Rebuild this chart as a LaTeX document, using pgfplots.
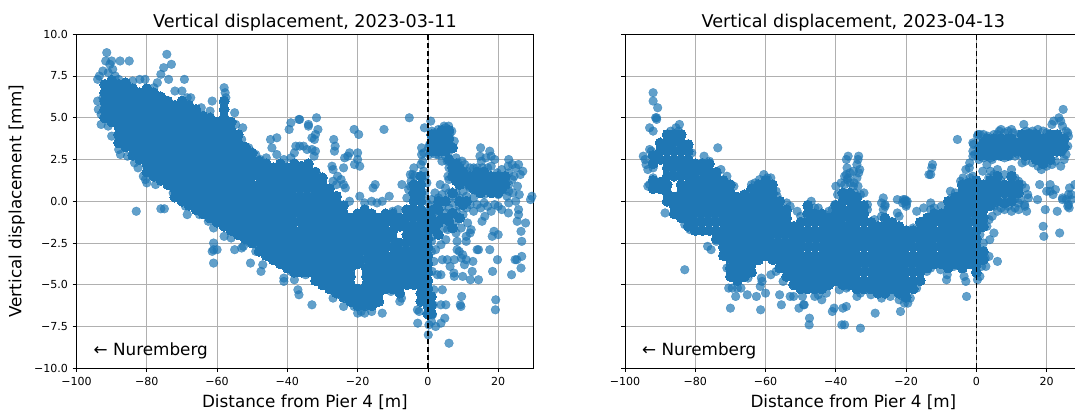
\documentclass[border=0pt]{standalone}
\usepackage{pgfplots}
\pgfplotsset{compat=1.18}
\usepackage{fontspec}
\setmainfont{DejaVu Sans}
\definecolor{mplblue}{HTML}{1F77B4}
\pgfplotsset{
 panel/.style={scale only axis,width=342.6pt,height=250.5pt,anchor=south west,
  xmin=-100,xmax=30,ymin=-10,ymax=10,
  xtick={-100,-80,-60,-40,-20,0,20},
  xticklabels={−100,−80,−60,−40,−20,0,20},
  ytick={-10,-7.5,-5,-2.5,0,2.5,5,7.5,10},
  tick align=outside,tick pos=left,major tick length=2.9pt,
  tick style={black,line width=0.55pt},
  axis line style={black,line width=0.6pt},
  grid=major,grid style={color=black!31,line width=0.62pt},
  axis on top,clip=true,
  tick label style={font=\fontsize{8.3}{10}\selectfont},
  xlabel style={font=\fontsize{12.6}{15}\selectfont,yshift=0pt},
  ylabel style={font=\fontsize{12.6}{15}\selectfont,yshift=0pt},
  title style={font=\fontsize{13.2}{16}\selectfont,yshift=-7.5pt},
  xlabel={Distance from Pier 4 [m]},ylabel={Vertical displacement [mm]},
  after end axis/.code={
   \draw[black,line width=1.1pt,dash pattern=on 4.2pt off 1.8pt] (axis cs:0,-10)--(axis cs:0,10);
   \node[anchor=west,inner sep=0pt,font=\fontsize{12.6}{15}\selectfont] at (axis cs:-95.2,-8.95) {← Nuremberg};
  }},
 body/.style={only marks,mark=*,mark size=3.7pt,color=mplblue,mark options={fill=mplblue,draw=mplblue,line width=0pt}},
 outer/.style={only marks,mark=*,mark size=3.3pt,color=mplblue,mark options={fill=mplblue,draw=mplblue,line width=0.2pt,fill opacity=0.7,draw opacity=0.7}}
}
\begin{document}
\begin{tikzpicture}
\begin{axis}[panel,at={(57.4pt,31.3pt)},
 title={Vertical displacement, 2023-03-11},
 yticklabels={−10.0,−7.5,−5.0,−2.5,0.0,2.5,5.0,7.5,10.0}]
\addplot[body] coordinates {
(-92,5)(-92,5.5)(-92,6)(-92,6.5)(-92,7)
(-90,4.75)(-90,5.25)(-90,5.75)(-90,6.25)(-90,6.75)(-90,7.25)
(-88,3.5)(-88,4)(-88,4.5)(-88,5)(-88,5.5)(-88,6)(-88,6.5)(-88,7)
(-86,3.25)(-86,3.75)(-86,4.25)(-86,4.75)(-86,5.25)(-86,5.75)(-86,6.25)(-86,6.75)(-86,7.1)
(-84,2.75)(-84,3.25)(-84,3.75)(-84,4.25)(-84,4.75)(-84,5.25)(-84,5.75)(-84,6.25)(-84,6.75)
(-82,2.5)(-82,3)(-82,3.5)(-82,4)(-82,4.5)(-82,5)(-82,5.5)(-82,6)(-82,6.5)
(-80,1.75)(-80,2.25)(-80,2.75)(-80,3.25)(-80,3.75)(-80,4.25)(-80,4.75)(-80,5.25)(-80,5.75)(-80,6.25)(-80,6.75)
(-78,1.5)(-78,2)(-78,2.5)(-78,3)(-78,3.5)(-78,4)(-78,4.5)(-78,5)(-78,5.5)(-78,6)(-78,6.5)
(-76,1.25)(-76,1.75)(-76,2.25)(-76,2.75)(-76,3.25)(-76,3.75)(-76,4.25)(-76,4.75)(-76,5.25)(-76,5.75)(-76,6.25)
(-74,1)(-74,1.5)(-74,2)(-74,2.5)(-74,3)(-74,3.5)(-74,4)(-74,4.5)(-74,5)(-74,5.5)(-74,6)
(-72,0.25)(-72,0.75)(-72,1.25)(-72,1.75)(-72,2.25)(-72,2.75)(-72,3.25)(-72,3.75)(-72,4.25)(-72,4.75)(-72,5.25)(-72,5.75)
(-70,0)(-70,0.5)(-70,1)(-70,1.5)(-70,2)(-70,2.5)(-70,3)(-70,3.5)(-70,4)(-70,4.5)(-70,5)(-70,5.5)(-70,6)
(-68,-0.25)(-68,0.25)(-68,0.75)(-68,1.25)(-68,1.75)(-68,2.25)(-68,2.75)(-68,3.25)(-68,3.75)(-68,4.25)(-68,4.75)(-68,5.25)(-68,5.75)
(-66,-0.5)(-66,0)(-66,0.5)(-66,1)(-66,1.5)(-66,2)(-66,2.5)(-66,3)(-66,3.5)(-66,4)(-66,4.5)(-66,5)(-66,5.5)
(-64,-0.75)(-64,-0.25)(-64,0.25)(-64,0.75)(-64,1.25)(-64,1.75)(-64,2.25)(-64,2.75)(-64,3.25)(-64,3.75)(-64,4.25)(-64,4.75)(-64,5.1)
(-62,-1)(-62,-0.5)(-62,0)(-62,0.5)(-62,1)(-62,1.5)(-62,2)(-62,2.5)(-62,3)(-62,3.5)(-62,4)(-62,4.5)(-62,5)
(-60,-1.25)(-60,-0.75)(-60,-0.25)(-60,0.25)(-60,0.75)(-60,1.25)(-60,1.75)(-60,2.25)(-60,2.75)(-60,3.25)(-60,3.75)(-60,4.25)(-60,4.75)
(-58,-1.5)(-58,-1)(-58,-0.5)(-58,0)(-58,0.5)(-58,1)(-58,1.5)(-58,2)(-58,2.5)(-58,3)(-58,3.5)(-58,4)(-58,4.5)(-58,5)(-58,5.5)(-58,6)
(-56,-1.75)(-56,-1.25)(-56,-0.75)(-56,-0.25)(-56,0.25)(-56,0.75)(-56,1.25)(-56,1.75)(-56,2.25)(-56,2.75)(-56,3.25)(-56,3.75)(-56,4.25)(-56,4.75)
(-54,-2)(-54,-1.5)(-54,-1)(-54,-0.5)(-54,0)(-54,0.5)(-54,1)(-54,1.5)(-54,2)(-54,2.5)(-54,3)(-54,3.5)(-54,4)
(-52,-2.25)(-52,-1.75)(-52,-1.25)(-52,-0.75)(-52,-0.25)(-52,0.25)(-52,0.75)(-52,1.25)(-52,1.75)(-52,2.25)(-52,2.75)(-52,3.25)
(-50,-2.5)(-50,-2)(-50,-1.5)(-50,-1)(-50,-0.5)(-50,0)(-50,0.5)(-50,1)(-50,1.5)(-50,2)(-50,2.5)(-50,2.9)
(-48,-3)(-48,-2.5)(-48,-2)(-48,-1.5)(-48,-1)(-48,-0.5)(-48,0)(-48,0.5)(-48,1)(-48,1.5)(-48,2)(-48,2.4)
(-46,-3.25)(-46,-2.75)(-46,-2.25)(-46,-1.75)(-46,-1.25)(-46,-0.75)(-46,-0.25)(-46,0.25)(-46,0.75)(-46,1.25)(-46,1.75)(-46,2.25)
(-44,-3.5)(-44,-3)(-44,-2.5)(-44,-2)(-44,-1.5)(-44,-1)(-44,-0.5)(-44,0)(-44,0.5)(-44,1)(-44,1.5)(-44,2)
(-42,-3.75)(-42,-3.25)(-42,-2.75)(-42,-2.25)(-42,-1.75)(-42,-1.25)(-42,-0.75)(-42,-0.25)(-42,0.25)(-42,0.75)(-42,1.25)(-42,1.75)(-42,2.25)
(-40,-4)(-40,-3.5)(-40,-3)(-40,-2.5)(-40,-2)(-40,-1.5)(-40,-1)(-40,-0.5)(-40,0)(-40,0.5)(-40,1)(-40,1.5)(-40,2)
(-38,-4.25)(-38,-3.75)(-38,-3.25)(-38,-2.75)(-38,-2.25)(-38,-1.75)(-38,-1.25)(-38,-0.75)(-38,-0.25)(-38,0.25)(-38,0.75)(-38,1.25)(-38,1.75)(-38,2.25)
(-36,-4.25)(-36,-3.75)(-36,-3.25)(-36,-2.75)(-36,-2.25)(-36,-1.75)(-36,-1.25)(-36,-0.75)(-36,-0.25)(-36,0.25)(-36,0.75)(-36,1.25)(-36,1.75)(-36,2.1)
(-34,-4.25)(-34,-3.75)(-34,-3.25)(-34,-2.75)(-34,-2.25)(-34,-1.75)(-34,-1.25)(-34,-0.75)(-34,-0.25)(-34,0.25)(-34,0.75)(-34,1.25)(-34,1.75)(-34,2.25)
(-32,-4.75)(-32,-4.25)(-32,-3.75)(-32,-3.25)(-32,-2.75)(-32,-2.25)(-32,-1.75)(-32,-1.25)(-32,-0.75)(-32,-0.25)(-32,0.25)(-32,0.75)(-32,1.25)(-32,1.75)
(-30,-5)(-30,-4.5)(-30,-4)(-30,-3.5)(-30,-3)(-30,-2.5)(-30,-2)(-30,-1.5)(-30,-1)(-30,-0.5)(-30,0)(-30,0.5)(-30,1)(-30,1.4)
(-28,-5.25)(-28,-4.75)(-28,-4.25)(-28,-3.75)(-28,-3.25)(-28,-2.75)(-28,-2.25)(-28,-1.75)(-28,-1.25)(-28,-0.75)(-28,-0.25)(-28,0.25)(-28,0.75)
(-26,-5.5)(-26,-5)(-26,-4.5)(-26,-4)(-26,-3.5)(-26,-3)(-26,-2.5)(-26,-2)(-26,-1.5)(-26,-1)(-26,-0.5)(-26,0)(-26,0.3)
(-24,-5.75)(-24,-5.25)(-24,-4.75)(-24,-4.25)(-24,-3.75)(-24,-3.25)(-24,-2.75)(-24,-2.25)(-24,-1.75)(-24,-1.25)(-24,-0.75)(-24,-0.25)
(-22,-6)(-22,-5.5)(-22,-5)(-22,-4.5)(-22,-4)(-22,-3.5)(-22,-3)(-22,-2.5)(-22,-2)(-22,-1.5)(-22,-1)
(-20,-6.25)(-20,-5.75)(-20,-5.25)(-20,-3.75)(-20,-3.25)(-20,-2.75)(-20,-2.25)(-20,-1.75)(-20,-1.25)(-20,-0.75)
(-18,-6.25)(-18,-5.75)(-18,-5.25)(-17.5,-5)(-17.5,-4.5)(-17.5,-4)(-17.5,-3.5)(-18,-3)(-18,-2.5)(-18,-2)(-18,-1.5)(-18,-1)(-18,-0.5)
(-16,-6.25)(-16,-5.75)(-16,-5.25)(-16,-4.75)(-16,-4.25)(-16,-3.75)(-16,-3.25)(-16,-2.75)(-16,-2.25)(-16,-1.75)(-16,-1.25)(-16,-0.75)
(-14,-6)(-14,-5.5)(-14,-5)(-14,-4.5)(-14,-4)(-14,-3.5)(-14,-3)(-14,-2.5)(-14,-2)(-14,-1.5)(-14,-1)
(-12,-5.25)(-12,-4.75)(-12,-4.25)(-12,-3.75)(-12,-3.25)(-12,-2.75)(-12,-2.25)(-12,-1.75)(-12,-1.25)(-12,-0.75)
(-10,-5.25)(-10,-4.75)(-10,-4.25)(-10,-3.75)(-10,-3.25)(-10,-2.75)(-10,-2.25)(-10,-1.75)(-10,-1.25)(-10,-0.75)
(-8,-5.5)(-8,-5)(-8,-4.5)(-8,-4)(-8,-3.5)(-8,-3)(-8,-2.5)(-8,-1.5)(-8,-1)
(-6,-5)(-6,-4.5)(-6,-4)(-6,-3.5)(-6,-3)(-6,-2.5)(-6,-2)(-6,-1.5)(-6,-1)(-6,-0.5)
(-4,-5)(-4,-4.5)(-4,-4)(-4,-3.5)(-4,-3)(-4,-2.5)(-4,-2)(-4,-1.5)(-4,-1)(-4,-0.5)(-4,0)(-4,0.5)(-4,1)
(-2,-6)(-2,-5.5)(-2,-5)(-2,-4.5)(-2,-4)(-2,-3.5)(-2,-3)(-2,-2.5)(-2,-2)(-2,-1.5)(-2,-1)(-2,-0.5)(-2,0)(-2,0.5)(-2,1)(-2,1.5)
(0,-6.75)(0,-6.25)(0,-5.75)(0,-5.25)(0,-4.75)(0,-4.25)(0,-3.75)(0,-3.25)(0,-2.75)(0,-2.25)(0,-1.75)(0,-1.25)(0,-0.75)
(1,3)(1,3.5)(1,4)(3,3)(3,3.5)(3,4)(5,3)(5,3.5)(5,4)(7,3.2)(2,3.25)(2,3.75)(4,3.25)(4,3.75)(4,4.25)(6,3.25)(6,3.75)(6,4.25)
(7,1.5)(7,2)(9,1)(9,1.5)(9,2)(8,2.25)(8,1.25)(10,1.75)(10,1.25)(6,2.5)
(13,0.75)(13,1.25)(15,0.5)(15,1)(15,1.5)(17,0.75)(17,1.25)(19,0.75)(19,1.25)(21,0.75)(21,1.25)
(14,0.75)(14,1.25)(14,1.75)(16,0.75)(16,1.25)(16,1.75)(18,0.5)(18,1)(18,1.5)(20,0.5)(20,1)(20,1.5)(22,1)(22,1.5)(12,1)(12,1.5)
(1,-5.7)(1,-6.2)(1,-6.7)(1,-1)(2,-1.7)(3,-1.3)(1.5,-0.5)(3,-0.5)(5,0)(7,0.5)(9,0)(11,0)(3,0)(4,-1)(6,-1.2)(7,-0.7)(3,-2)(5,-1)(7,-1.6)(9,-1)(10,-0.2)
};
\addplot[outer] coordinates {
(-94,7.3)(-93.5,7.5)(-92.5,7.8)(-91.4,8.9)(-91.7,8.4)(-90.5,8.2)(-90,8.4)(-89.7,7.9)(-87.6,8.4)(-85,8.4)(-91,7.7)(-89,7.5)(-88,7.3)(-84,7.2)(-82,7.3)(-80.5,7.3)(-78,6.8)(-77,7.1)(-76,7.6)(-75.2,8.0)(-74.3,8.8)(-73,8.2)(-73.8,7.3)(-69.3,7.3)(-72,6.6)(-70,6.6)(-68.5,6.2)(-67.5,6.2)(-61.4,6)
(-64.5,5.6)(-62,5.4)(-58,6.8)(-57.7,6.5)(-57.5,6.2)(-55,5.3)(-54.7,4.6)(-52.7,4.4)(-53,3.7)(-51,3.2)(-49,2.8)
(-94,6)(-93.8,5.5)(-93,5.2)(-93,4.6)(-92,5.8)(-92.5,6.2)(-91,4.5)(-90,3.9)
(-88,3.1)(-87.5,2.8)(-85.5,2.7)(-83.5,2.3)(-82.5,2)(-80,1.1)(-80.4,1.3)(-81,1.5)(-77.5,1)(-74,1)(-72.5,0.5)(-69,-0.3)(-68.5,-0.8)(-65,-0.8)(-62.5,-1.2)(-61,-1.6)
(-83,-0.6)(-76,-0.45)(-75,-0.45)
(-61,-2.5)(-61.4,-3)(-60,-2.9)(-61,-3.7)(-61,-2.9)(-58,-2.1)(-56,-2.2)(-55,-2.9)(-52.5,-2.7)(-53,-2.8)(-51.5,-2.4)(-50.5,-3.7)(-47.5,-4.2)(-47,-3.8)(-49,-3)
(-41,-4.6)(-41,-4.8)(-38,-4.7)(-37,-5.3)(-36.7,-5.6)(-39,-4.2)(-33,-6.2)
(-44.8,3.7)(-43,3.8)(-44.4,3.2)(-39.5,4.3)(-39,4.7)(-36.5,4.9)(-34,4.6)(-37.6,3.3)(-36.5,3.3)(-34.4,3.1)(-38,2.9)(-39,2.6)(-46,2.6)(-43,2.8)(-47.7,2.5)(-41,2.5)
(-31.7,5)(-34,4.5)(-31.3,4.3)(-32,4)(-33,3.8)(-32.3,3.7)(-35.4,3.3)(-36.7,4.9)(-33,3.1)(-32,3)(-32.4,2.7)(-26.8,3.7)(-26.4,3.3)(-26.6,3)(-21,4.3)(-19.7,4)(-12.5,4.3)(-5.3,5)(-1,4.4)(-1.8,3.2)(-1.8,2.8)(-1.2,2.9)
(-20,2.9)(-22.3,2.9)(-23.7,2.6)(-22.8,2.7)(-20.9,2.2)(-19.4,2.1)(-20,2.5)(-27.3,2.1)(-27,1.9)(-24,2)(-25.7,1.5)(-24.7,1.3)(-24,1)(-23.5,0.8)(-26,1)(-27,1.2)(-22.3,0)(-19.4,0.3)(-15,1)(-15.6,0.8)(-11,0.3)(-7.4,1)
(-18,-0.1)(-16,0)(-14.5,-0.1)(-13,0)(-10,-0.6)(-8.5,-0.5)(-6,0.2)(-5,0.9)(-4,2)(-4.3,1.6)(-3.8,1.5)(-1.2,1.8)(-0.8,1.5)(-0.3,1.1)(-4.8,1.2)(-5.5,0.7)(-3.5,0.3)
(-20,-6.7)(-18,-6.7)(-16,-6.6)(-13,-6.7)(-15,-6)(-24,-6.3)(-21,-6.3)(-19,-6.6)(-27,-5.8)(-30,-4.9)(-34.8,-4.4)
(-8,-6)(-7.5,-5.8)(-10.5,-5.4)(-3,-6.5)(-2.5,-6.6)(-2.9,-7.3)(0.3,-7.4)(1,-7.2)(1.3,-6.8)(0.5,-6.6)(2.2,-7.5)(3.7,-7.3)(4.8,-7)(0.1,-8)(6,-8.5)(1.5,-6.2)
(1.7,-5.3)(4.1,-5.3)(3.7,-6.2)(5.1,-6.2)(9.6,-5.7)(9.2,-6.2)(9.4,-6.3)(19.3,-5.9)(19.2,-6.5)
(14.4,-2.9)(14,-2.9)(17.6,-2.9)(19.8,-3.5)(24.8,-3.5)(25.3,-3.5)(26.7,-3.3)(26.5,-4)(23.8,-4.4)(18.4,-4.2)(14.4,-4.7)(12.1,-4.7)(12.6,-4.2)(12.8,-3.6)(9.9,-4.5)(7.5,-4.5)(7.4,-4.3)(6.3,-3.9)(4.1,-3.5)(5.5,-3.5)(7.5,-3.5)(8.9,-3)(9.9,-3.2)(10.9,-3.5)(10.4,-3.8)(9.5,-3.4)(8.3,-2.9)
(26.7,-2.4)(26.5,-1.8)(27.8,-1.3)(25.8,-0.5)(25.8,-0.8)(22.9,-0.7)(25.4,-1.2)(18.8,-1.8)(18.3,-2.1)(20,-2)(15.4,-1.2)(16.2,-0.9)(12.3,-1.7)(10.9,-2.1)(10.9,-2.4)(12,-1.9)(8,-1.9)(8.3,-2.4)(5.1,-2.3)(3.7,-2.6)(2.2,-2.9)(1.7,-3.6)(2.7,-4.4)(3.7,-4.4)(1.3,-2.1)(4.6,-1.6)(5.6,-1.7)(1,-3)(1.2,-4.2)(8,-1.2)(9.5,-1.6)(11.3,-1.3)
(1,-1.2)(2,-0.6)(3,-0.9)(4,-0.3)(5,-0.7)(6,-0.4)(7,-0.1)(8,-0.6)(9,-0.3)(10,-0.8)(11,-0.4)(12,-0.2)(13,-0.6)(14,-0.2)(15,-0.4)(16,-0.1)(17,-0.3)(18,-0.6)(19,-0.2)(20,-0.3)(21,-0.5)(23,-0.1)(25,0)(26,0.4)(29.6,0.3)(29.2,0.1)(24.2,0.5)(22.5,0.3)
(1,0.1)(2,0.5)(3,0.2)(4,0.4)(5,0.8)(6,0.5)(7,0.3)(8,0.5)(9,0.2)(10,0.6)(11,0.3)(12,0.8)(13,0.2)(14,0.6)(16,0.4)(18,0.5)(20,0.4)(22,0.7)(23,1)(24,1.3)
(0.5,2.8)(0.5,3.4)(0.8,4.8)(1.1,4.2)(1,3.7)(0.2,3.2)(2,4.1)(2,3.6)(2,3)(2.4,2.8)(3,4.3)(4,4)(4,3.5)(4,3)(4.6,4.5)(5,4.4)(5.9,4.5)(6.2,4)(6,3.5)(6,3)(7.5,3.6)(7.2,3.2)(6.8,4.2)(3,2.8)(5,2.7)
(4,2.4)(5.5,2.4)(8,2.6)(8.5,2.3)(9.7,2.4)(10.5,2.2)(11,1.8)(6,2)(8,1.8)(10,1.5)(11.3,1)(8,1.2)(6,1.3)(5.7,1.5)(3.5,1)(11.7,0.9)
(15,3.2)(17.6,3)(18,2.7)(15.2,2.4)(16.5,2.6)(14.8,2.7)(19,2.5)(23,2.5)(22.8,2.1)(24,2.2)(25.8,2.2)(25,2)(26.3,1.6)(27,1.8)(24.5,1.5)(23,1.7)(12,2)(13,2)(14,2)(15.5,2)(17,2)(18,2.1)(19.7,1.7)(21,1.9)(22,1.3)(12,1.5)(23,0.6)(25.5,0.9)
(-2,2.2)(-1.5,2.4)(-5,1.6)(-1,0.5)(-0.5,0)(-0.5,-0.6)(0.8,-0.3)(2.2,-1.5)(1,-2.4)
};
\end{axis}
\begin{axis}[panel,at={(468.75pt,31.3pt)},
 title={Vertical displacement, 2023-04-13},
 yticklabels={},ylabel={}]
\addplot[body] coordinates {
(-92,0.75)(-92,1.25)(-92,2.25)(-92,2.75)
(-90,0.75)(-90,1.15)(-90,2.5)(-90,3)(-90,3.5)
(-88,0)(-88,0.5)(-88,1)(-88,1.5)(-88,2)(-88,2.5)(-88,3)(-88,3.5)(-88,4)
(-86,-0.75)(-86,-0.25)(-86,0.25)(-86,1.5)(-86,2)(-86,2.5)(-86,3)(-86,3.5)(-86,4)
(-84,-1)(-84,-0.5)(-84,0)(-84,0.5)(-84,1)(-84,1.5)(-84,2)(-84,2.5)(-84,3)(-84,3.5)(-84,4)
(-82,-1.5)(-82,-1)(-82,-0.5)(-82,0)(-82,0.5)(-82,1)(-82,1.5)(-82,2)(-82,2.5)(-82,3)(-82,3.4)
(-80,-1.75)(-80,-1.25)(-80,-0.75)(-80,-0.25)(-80,0.25)(-80,0.75)(-80,1.25)(-80,1.75)(-80,2.25)
(-78,-1.75)(-78,-1.25)(-78,-0.75)(-78,-0.25)(-78,0.25)(-78,0.75)(-78,1.25)(-78,1.75)(-78,2.25)
(-76,-1.75)(-76,-1.25)(-76,-0.75)(-76,-0.25)(-76,0.25)(-76,0.75)(-76,1.25)(-76,1.75)(-76,2.25)
(-74,-2.25)(-74,-1.75)(-74,-1.25)(-74,-0.75)(-74,-0.25)(-74,0.25)(-74,0.75)(-74,1.25)(-74,1.75)
(-72,-3.25)(-72,-2.75)(-72,-2.25)(-72,-1.75)(-72,-1.25)(-72,-0.75)(-72,-0.25)(-72,0.25)(-72,0.75)(-72,1.25)
(-70,-4.5)(-70,-4)(-70,-3.5)(-70,-3)(-70,-2.5)(-70,-2)(-70,-1.5)(-70,-1)(-70,-0.5)(-70,0)(-70,0.5)(-70,1)
(-68,-4.75)(-68,-4.25)(-68,-3.75)(-68,-3.25)(-68,-2.75)(-68,-2.25)(-68,-1.75)(-68,-1.25)(-68,-0.75)(-68,-0.25)(-68,0.25)
(-66,-4.5)(-66,-4)(-66,-3.5)(-66,-3)(-66,-2.5)(-66,-2)(-66,-1.5)(-66,-1)(-66,-0.5)(-66,0)(-66,0.4)
(-64,-4.25)(-64,-3.75)(-64,-3.25)(-64,-2.75)(-64,-2.25)(-64,-1.75)(-64,-1.25)(-64,-0.75)(-64,-0.25)(-64,0.25)(-64,0.75)
(-62,-3.5)(-62,-3)(-62,-2.5)(-62,-2)(-62,-1.5)(-62,-1)(-62,-0.5)(-62,0)(-62,0.5)(-62,1)
(-60,-3.25)(-60,-2.75)(-60,-2.25)(-60,-1.75)(-60,-1.25)(-60,-0.75)(-60,-0.25)(-60,0.25)(-60,0.75)(-60,1.25)
(-58,-3.5)(-58,-3)(-58,-2.5)(-58,-2)(-58,-1.5)(-58,-1)(-58,-0.5)(-58,0)(-58,0.5)(-58,1)
(-56,-4)(-56,-3.5)(-56,-3)(-56,-2.5)(-56,-2)(-56,-1.5)(-56,-1)(-56,-0.5)(-56,0)
(-54,-4.5)(-54,-4)(-54,-3.5)(-54,-3)(-54,-2.5)(-54,-2)(-54,-1.5)(-54,-1)(-54,-0.5)
(-52,-5)(-52,-4.5)(-52,-4)(-52,-3.5)(-52,-3)(-52,-2.5)(-52,-2)(-52,-1.5)
(-50,-5.25)(-50,-4.75)(-50,-4.25)(-50,-3.75)(-50,-3.25)(-50,-2.75)(-50,-2.25)(-50,-1.75)(-50,-1.25)
(-48,-5.25)(-48,-4.75)(-48,-4.25)(-48,-3.75)(-48,-3.25)(-48,-2.75)(-48,-2.25)(-48,-1.75)(-48,-1.25)(-48,-0.75)(-48,-0.25)
(-46,-5.25)(-46,-4.75)(-46,-4.25)(-46,-3.75)(-46,-3.25)(-46,-2.75)(-46,-2.25)(-46,-1.75)(-46,-1.25)(-46,-0.75)
(-44,-5.25)(-44,-4.75)(-44,-4.25)(-44,-3.75)(-44,-3.25)(-44,-2.75)(-44,-2.25)(-44,-1.75)(-44,-1.25)(-44,-0.75)
(-42,-5)(-42,-4.5)(-42,-4)(-42,-3.5)(-42,-3)(-42,-2.5)(-42,-2)(-42,-1.5)(-42,-1)
(-40,-4.75)(-40,-4.25)(-40,-3.75)(-40,-3.25)(-40,-2.75)(-40,-2.25)(-40,-1.75)(-40,-1.25)(-40,-0.75)(-40,-0.25)
(-38,-5)(-38,-4.5)(-38,-4)(-38,-3.5)(-38,-3)(-38,-2.5)(-38,-2)(-38,-1.5)(-38,-1)(-38,-0.5)(-38,0)(-38,0.5)
(-36,-5)(-36,-4.5)(-36,-4)(-36,-3.5)(-36,-3)(-36,-2.5)(-36,-2)(-36,-1.5)(-36,-1)(-36,-0.5)(-36,0)(-36,0.5)
(-34,-5.25)(-34,-4.75)(-34,-4.25)(-34,-3.75)(-34,-3.25)(-34,-2.75)(-34,-2.25)(-34,-1.75)(-34,-1.25)(-34,-0.75)(-34,-0.25)(-34,0.25)
(-32,-5.25)(-32,-4.75)(-32,-4.25)(-32,-3.75)(-32,-3.25)(-32,-2.75)(-32,-2.25)(-32,-1.75)(-32,-1.25)(-32,-0.75)(-32,-0.25)
(-30,-5.25)(-30,-4.75)(-30,-4.25)(-30,-3.75)(-30,-3.25)(-30,-2.75)(-30,-2.25)(-30,-1.75)(-30,-1.25)
(-28,-5.5)(-28,-5)(-28,-4.5)(-28,-4)(-28,-3.5)(-28,-3)(-28,-2.5)(-28,-2)(-28,-1.5)
(-26,-5.5)(-26,-5)(-26,-4.5)(-26,-4)(-26,-3.5)(-26,-3)(-26,-2.5)(-26,-2)(-26,-1.5)(-26,-1)
(-24,-5.25)(-24,-4.75)(-24,-4.25)(-24,-3.75)(-24,-3.25)(-24,-2.75)(-24,-2.25)(-24,-1.75)(-24,-1.25)
(-22,-5.5)(-22,-5)(-22,-4.5)(-22,-4)(-22,-3.5)(-22,-3)(-22,-2.5)(-22,-2)(-22,-1.5)
(-20,-5.75)(-20,-5.25)(-20,-4.75)(-20,-4.25)(-20,-3.75)(-20,-3.25)(-20,-2.75)(-20,-2.25)(-20,-1.75)
(-18,-5.25)(-18,-4.75)(-18,-4.25)(-18,-3.75)(-18,-3.25)(-18,-2.75)(-18,-2.25)(-18,-1.75)
(-16,-4.75)(-16,-4.25)(-16,-3.75)(-16,-3.25)(-16,-2.75)(-16,-2.25)(-16,-1.75)(-16,-1.25)
(-14,-4)(-14,-3.5)(-14,-3)(-14,-2.5)(-14,-2)(-14,-1.5)(-14,-1)
(-12,-3.75)(-12,-3.25)(-12,-2.75)(-12,-2.25)(-12,-1.75)(-12,-1.25)(-12,-0.75)
(-10,-3.75)(-10,-3.25)(-10,-2.75)(-10,-2.25)(-10,-1.75)(-10,-1.25)(-10,-0.75)
(-8,-4)(-8,-3.5)(-8,-3)(-8,-2.5)(-8,-2)(-8,-1.5)(-8,-1)(-8,-0.5)(-8,0)
(-6,-3.75)(-6,-3.25)(-6,-2.75)(-6,-2.25)(-6,-1.75)(-6,-1.25)(-6,-0.75)(-6,-0.25)(-6,0.25)
(-4,-4)(-4,-3.5)(-4,-3)(-4,-2.5)(-4,-2)(-4,-1.5)(-4,-1)(-4,-0.5)(-4,0)(-4,0.5)(-4,1)
(-2,-3.75)(-2,-3.25)(-2,-2.75)(-2,-2.25)(-2,-1.75)(-2,-1.25)(-2,-0.75)(-2,-0.25)(-2,0.25)(-2,0.75)(-2,1.1)
(0,-4.25)(0,-3.75)(0,-3.25)(0,-2.75)(0,-2.25)(0,-1.75)(0,-1.25)(0,-0.75)(0,-0.25)(0,0.25)(0,0.75)(0,1.25)
(2,-3.5)(2,-3)(2,-1.5)(2,-1)(2,-0.5)(2,0)(2,0.5)(2,1)
(4,-0.25)(4,0.25)(4,0.75)(4,1.25)(6,0)(6,0.5)(6,1)(6,1.5)(8,-0.1)(8,0.5)(8,1)(10,0)(10,0.5)(10,1)(10,1.5)(12,0.5)(12,1)
(1,2.75)(1,3.25)(3,2.75)(3,3.25)(3,3.75)(5,2.75)(5,3.25)(5,3.75)(7,2.75)(7,3.25)(7,3.75)(9,2.75)(9,3.25)(9,3.75)(11,3)(11,3.5)(13,3)(13,3.5)(13,4)(15,3)(15,3.5)(15,4)(17,2.5)(17,3)(17,3.5)(17,4)(19,2.25)(19,2.75)(19,3.25)(19,3.75)(21,2.5)(21,3)(21,3.5)(21,4)(23,3)(23,3.5)(23,4)(25,3.25)(25,3.75)
(2,3)(2,3.5)(4,3)(4,3.5)(6,3)(6,3.5)(8,3)(8,3.5)(10,3.25)(10,3.75)(12,3)(12,3.5)(14,2.75)(14,3.25)(14,3.75)(16,2.75)(16,3.25)(16,3.75)(18,2.5)(18,3)(18,3.5)(20,2.75)(20,3.25)(20,3.75)(22,3)(22,3.5)(24,3)(24,3.5)
};
\addplot[outer] coordinates {
(-92,6.5)(-92,6)(-90.7,5.6)(-91,5)(-91.3,5)(-91,4.9)(-93,4.4)(-92,4.2)(-84.5,4.6)(-85.5,4.4)(-84.7,4.2)(-87,4.2)(-82.5,3.2)(-81,2.9)(-73.6,3.2)(-76,2.4)(-77.5,2.7)(-78,2.3)(-72.7,1.9)(-71,1.5)(-69,0.9)
(-94.8,2.7)(-94.3,2.5)(-93,3.1)(-92.5,3)(-94,2.2)(-93.5,1.9)(-93,1)(-93.5,0.9)(-92,1.4)(-92,2)
(-88.6,-0.7)(-86,-0.7)(-83,-1.4)(-81.5,-1.7)(-79,-1.7)(-76.5,-2.7)(-75.5,-2.9)(-83,-4.1)(-74,-2.4)(-71.5,-3.3)(-71,-4)
(-70.5,-5.2)(-69.5,-5.2)(-68,-5.2)(-67,-5.2)(-68.5,-5.7)(-65.2,-5.6)(-62.6,-5.7)(-70,-6.4)(-61.4,-6.5)(-61.5,-5.1)(-60,-5.5)(-61.2,-4.6)(-61,-4.8)(-65,-4.6)(-58.5,-4.4)(-57,-4.2)(-56,-5.6)(-55.5,-6.2)
(-55,-4.8)(-53,-5.7)(-52,-5.7)(-50.5,-6.4)(-49.5,-5.7)(-49.2,-6.2)(-49,-6.2)(-47.5,-7)(-47.6,-7.4)(-46,-5.7)(-45,-5.6)(-44,-5.9)(-42.7,-5.5)(-41,-6.6)(-40.5,-6.4)(-38,-6.4)(-37.5,-7.4)(-37,-5.2)(-36.5,-5.1)
(-38.3,-7.4)(-33,-7.6)(-28.8,-6.7)(-37,-6.3)(-39,-5.3)(-34,-5.7)(-33,-5.5)(-30,-5.6)(-27,-5.8)(-24.5,-5.7)(-22,-5.9)(-20.5,-6.1)(-21.6,-6.6)(-19.5,-6.1)(-18.8,-5.8)(-17,-5.2)(-21,-5.7)
(-14.1,-4.2)(-13,-4)(-10.2,-4.1)(-8.5,-4.7)(-8.3,-4.4)(-6.4,-3.9)(-3.5,-4.5)(-3,-4.8)(-2.8,-5.7)(-4,-3.9)(0.3,-4.7)(1,-4.5)(2.7,-3.9)(3.6,-3.3)(6,-3.6)(1.5,-3.9)(2.5,-3.4)
(-18,-1.6)(-20,-0.3)(-20,0)(-21,-0.1)(-20.3,0.1)(-24.5,-1.3)(-26.5,-0.5)(-26,-0.2)(-27,-0.9)(-29,-1.1)(-22.5,-0.7)(-22,-0.9)(-16,-1.3)(-15,-1.2)(-12,-0.7)(-11,-0.9)(-13,-0.5)
(-48,-0.2)(-47,0)(-47.5,-0.6)(-46,-0.4)(-50,-0.9)(-51,-0.6)(-45,-0.4)(-43,-0.8)(-42,-0.6)(-41,-0.5)
(-61.7,1.3)(-60.5,1.6)(-59.5,1.4)(-58.5,1.4)(-57,0.6)(-56.7,0.3)(-54,-0.1)(-53,-0.3)(-64,1)(-63,1.1)
(-40,0.9)(-38.5,1.1)(-39.5,0.4)(-37.5,1)(-36.5,1.4)(-36.7,1.3)(-36,1.1)(-35,0.9)(-37,1.6)(-34.7,0.5)(-39,-0.2)(-33,0.4)(-32,0.5)(-31,-0.2)(-31,-0.5)(-40.3,-0.2)
(-37,2.5)(-36.5,2.7)(-36.8,2)(-33.5,2.7)(-33.7,2.5)(-34,2.2)(-35,1.8)(-37.5,1.5)(-36,1.7)(-33.2,1.9)(-33.5,1.7)(-34,1.4)(-34.8,1.1)(-33.7,0.9)
(-26.5,0.2)(-27,-0.1)(-26,-0.3)(-22.5,0.1)(-20.8,0.1)(-20.5,0)(-19.7,0)(-19.9,-0.2)(-13,-0.1)(-12,-0.4)(-15,-0.4)(-17,-0.6)(-10,-0.3)(-12.7,2)(-12.5,2.2)(-13,1.6)(-13.5,1.6)
(-7.4,0.6)(-6,0.5)(-4.5,1.2)(-3.8,1.4)(-3,0.8)(-1.8,1.4)(-1,1.5)(-7,0.2)(-5.5,-0.2)(-3,1.9)(-2,2)(-1.9,2.3)(-5.4,3.7)(-1,3)(-0.8,3.4)(-1,3.5)(-1,2.7)(-0.5,2.8)
(0.3,3.9)(1,3.4)(1,2.7)(0.5,2.9)(0.7,2.5)(3,2.2)(1.8,1.8)(4,1.8)(3.5,1.4)(5,1.6)(6,1.9)(7,1.2)(8,1.6)(9,0.9)(10,1.9)(11,1.4)(12,1.2)(13,1)(14,0.8)(14.8,0.2)(13.8,-0.3)(14.3,-0.6)(12.5,0.1)(13.7,-0.2)(14.6,0.4)(17.4,0.1)(19.6,-0.5)(23,-0.6)(24.5,0.1)(25.6,0.1)(26.2,0.4)(27,0.4)(28,1)(26.5,0.8)(27,0.1)(26.4,-0.4)(24.5,0.2)(26.2,-0.2)
(19,-1.5)(19.2,-2.1)(23.7,-1.9)(26,-0.3)
(3.6,-1.1)(5,-1.9)(3.8,-2.3)(3,-1.5)(2,-2.5)(1,-2)(4.5,-0.9)(5,-0.3)(6,-0.6)(7,-0.4)(8,-0.5)(9,-0.3)(10,-0.6)(11,-0.4)(12,-0.1)(12,-0.5)(7.5,0.2)(9,0)(11,0.2)
(0.5,4)(1,4)(2,4)(3.2,3.9)(4,2.6)(5,4)(6,4)(6.5,4.2)(7,4.3)(8,4.1)(9,4.2)(10,4.3)(10.5,4.1)(11,2.7)(12,2.8)(12,4)(13.5,4.6)(14.2,4.2)(15,4.1)(16,4.2)(17.5,4.3)(19,4.2)(20,4.1)(21.5,4.6)(22,4.8)(23.5,5)(24.7,5.5)(24,4.8)(24.5,4.5)(25.5,4.2)(26,4.1)(26.2,3.9)(25,3.7)(26,3.3)(24.5,3)(25.5,2.8)(25,2.5)(24,2.1)(22.5,2.4)(21.5,2.2)(20,2.1)(18.5,1.9)(17.5,2.1)(16,2.3)(14,2.4)(13,2.3)(4.5,2.5)(2,2.6)(6.5,2.7)(8,2.6)(9.5,2.7)
(18,1)(20,0.6)(21,0.6)(21.8,0.4)(21,1)(22.5,0.7)
};
\end{axis}
\pgfresetboundingbox
\useasboundingbox (0pt,0pt) rectangle (806.25pt,307.5pt);
\end{tikzpicture}
\end{document}
